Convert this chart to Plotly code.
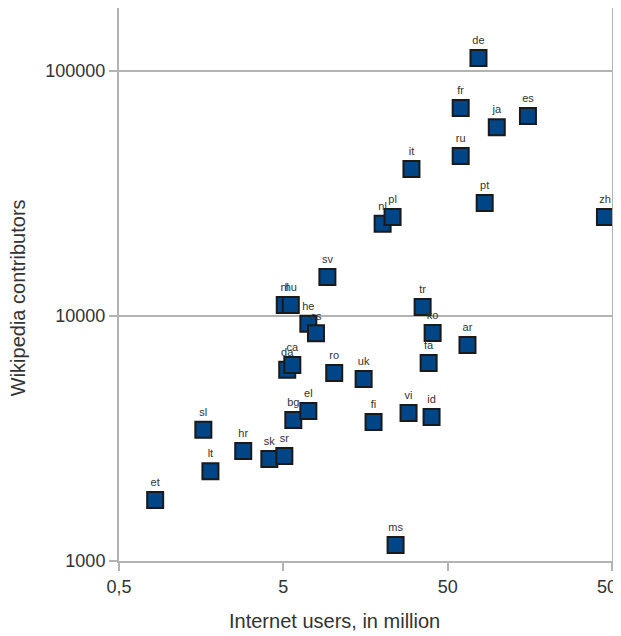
import plotly.graph_objects as go
import math

languages = ["et", "sl", "lt", "hr", "sk", "sr", "bg", "el", "da", "ca", "ro", "uk", "fi", "vi", "id",
             "fa", "ko", "tr", "ar", "ms", "sv", "nl", "hu", "he", "cs", "nl ", "pl", "it", "ru", "fr",
             "de", "ja", "es", "pt", "zh"]
internet_users_million = [0.83, 1.63, 1.80, 2.85, 4.11, 5.07, 5.75, 7.1, 5.28, 5.67, 10.2, 15.4, 17.7, 28.9, 39.9,
                          38.3, 40.5, 35.2, 66, 24.1, 9.27, 5.1, 5.55, 7.1, 7.9, 20.1, 23.1, 30.1, 60, 60,
                          77, 99.5, 154, 84, 453]
contributors = [1775, 3430, 2327, 2812, 2606, 2683, 3767, 4095, 6030, 6310, 5850, 5530, 3690, 4020, 3870,
                6430, 8530, 10890, 7620, 1162, 14420, 11100, 11100, 9300, 8500, 23770, 25350, 39800, 45000, 70600,
                113000, 59000, 65500, 28900, 25350]

x_title = "Internet users, in million"
y_title = "Wikipedia contributors"

label_text = [l.strip() for l in languages]

FONT = "Liberation Sans, Arial, sans-serif"

fig = go.Figure()
fig.add_trace(go.Scatter(
    x=internet_users_million, y=contributors, mode="markers+text",
    text=label_text, textposition="top center",
    textfont=dict(family=FONT, size=11, color="#333333"),
    marker=dict(symbol="square", size=16, color="#004586", line=dict(color="#1a1a1a", width=2)),
    cliponaxis=False, showlegend=False, hoverinfo="skip"))

fig.update_layout(
    width=621, height=636,
    margin=dict(l=111, r=17, t=0, b=83),
    paper_bgcolor="white", plot_bgcolor="white",
    font=dict(family=FONT, size=13, color="#333333"),
    xaxis=dict(type="log", range=[math.log10(0.5), math.log10(500)], automargin=False,
               tickvals=[0.5, 5, 50, 500], ticktext=["0,5", "5", "50", "500"],
               showgrid=False, zeroline=False, showline=True, linecolor="#b3b3b3", linewidth=2,
               ticks="outside", ticklen=8, tickwidth=2, tickcolor="#b3b3b3",
               tickfont=dict(family=FONT, size=18, color="#333333")),
    yaxis=dict(type="log", range=[3, 5 + 63 / 245], automargin=False,
               tickvals=[1000, 10000, 100000], ticktext=["1000", "10000", "100000"],
               showgrid=True, gridcolor="#b3b3b3", gridwidth=2, zeroline=False,
               showline=True, mirror=True, linecolor="#b3b3b3", linewidth=2,
               ticks="outside", ticklen=8, tickwidth=2, tickcolor="#b3b3b3",
               tickfont=dict(family=FONT, size=18, color="#333333")),
    annotations=[
        dict(text=x_title, xref="paper", yref="paper", x=0.438, y=-0.1085,
             xanchor="center", yanchor="middle", showarrow=False,
             font=dict(family=FONT, size=20, color="#333333")),
        dict(text=y_title, xref="paper", yref="paper", x=-0.2049, y=0.477,
             xanchor="center", yanchor="middle", showarrow=False, textangle=-90,
             font=dict(family=FONT, size=20, color="#333333")),
    ],
)
fig.write_html("out.html")
